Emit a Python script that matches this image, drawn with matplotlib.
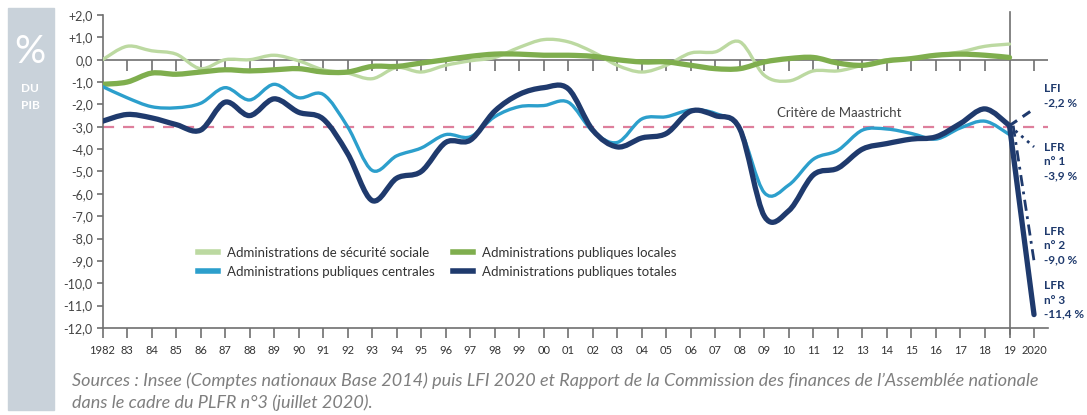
import numpy as np
import matplotlib.pyplot as plt
from matplotlib.path import Path
from matplotlib.patches import PathPatch, Rectangle
from matplotlib.lines import Line2D

plt.rcParams['font.family'] = ['Lato', 'DejaVu Sans']

# Soldes en % du PIB, 1982-2019
years = list(range(1982, 2020))
secu = [0.0, 0.6, 0.4, 0.25, -0.4, 0.0, 0.0, 0.2, -0.05, -0.45,
        -0.6, -0.85, -0.35, -0.55, -0.25, -0.05, 0.1, 0.55, 0.9, 0.8,
        0.35, -0.25, -0.55, -0.25, 0.3, 0.35, 0.8, -0.7, -0.95, -0.5,
        -0.5, -0.25, 0.0, 0.05, 0.2, 0.35, 0.6, 0.7]
locales = [-1.1, -1.0, -0.6, -0.65, -0.55, -0.45, -0.5, -0.45, -0.4, -0.55,
           -0.55, -0.3, -0.3, -0.15, 0.0, 0.15, 0.25, 0.25, 0.2, 0.2,
           0.15, 0.0, -0.1, -0.1, -0.25, -0.4, -0.4, -0.1, 0.05, 0.1,
           -0.15, -0.25, -0.05, 0.05, 0.2, 0.25, 0.2, 0.1]
centrales = [-1.2, -1.7, -2.1, -2.15, -1.95, -1.25, -1.8, -1.1, -1.7, -1.55,
             -3.0, -4.95, -4.3, -3.95, -3.35, -3.45, -2.55, -2.1, -2.05, -1.9,
             -3.2, -3.7, -2.65, -2.55, -2.25, -2.4, -3.1, -5.95, -5.6, -4.45,
             -4.05, -3.15, -3.1, -3.3, -3.55, -3.05, -2.75, -3.35]
totales = [-2.75, -2.45, -2.6, -2.9, -3.15, -1.9, -2.5, -1.75, -2.35, -2.65,
           -4.2, -6.3, -5.3, -5.0, -3.7, -3.6, -2.3, -1.55, -1.25, -1.3,
           -3.15, -3.9, -3.5, -3.3, -2.3, -2.5, -3.1, -7.0, -6.75, -5.15,
           -4.85, -4.0, -3.75, -3.55, -3.45, -2.85, -2.2, -2.95]

# Prévisions 2020
proj_labels = ['LFI\n-2,2 %', 'LFR\nn° 1\n-3,9 %', 'LFR\nn° 2\n-9,0 %', 'LFR\nn° 3\n-11,4 %']
proj_values = [-2.2, -3.9, -9.0, -11.4]
maastricht = -3.0

tick_years = list(range(1982, 2021))
tick_labels = ['1982'] + ['%02d' % (y % 100) for y in range(1983, 2020)] + ['2020']

c_secu = '#bcd9a1'
c_loc = '#7fae4e'
c_cent = '#2c9fcc'
c_tot = '#1f3a6d'
c_axis = '#707070'


def smooth_path(x, y):
    # courbe de Catmull-Rom convertie en Bezier cubiques
    x = np.asarray(x, float)
    y = np.asarray(y, float)
    pts = np.column_stack([x, y])
    ext = np.vstack([pts[0], pts, pts[-1]])
    verts = [pts[0]]
    codes = [Path.MOVETO]
    for i in range(len(pts) - 1):
        p0, p1, p2, p3 = ext[i], ext[i + 1], ext[i + 2], ext[i + 3]
        verts += [p1 + (p2 - p0) / 6, p2 - (p3 - p1) / 6, p2]
        codes += [Path.CURVE4] * 3
    return Path(verts, codes)


fig = plt.figure(figsize=(10.87, 4.15), dpi=100)
ax = fig.add_axes([102.5 / 1087, 1 - 328 / 415, 945 / 1087, 313 / 415])

# bandeau gris à gauche
fig.add_artist(Rectangle((8 / 1087, 1 - 410 / 415), 46 / 1087, 402 / 415,
                         transform=fig.transFigure, color='#c9d2da', zorder=0))
fig.text(30 / 1087, 1 - 52 / 415, '%', color='white', fontsize=28,
         ha='center', va='center')
fig.text(30 / 1087, 1 - 88 / 415, 'DU', color='white', fontsize=8.5,
         ha='center', va='center', fontweight='bold')
fig.text(30 / 1087, 1 - 105 / 415, 'PIB', color='white', fontsize=8.5,
         ha='center', va='center', fontweight='bold')

ax.set_xlim(1982, 2020.55)
ax.set_ylim(-12, 2)

# axe zéro et ses graduations
ax.axhline(0, color=c_axis, lw=1.2, zorder=1)
ax.vlines([y for y in tick_years[1:] if y != 2019], -0.5, 0, color=c_axis, lw=1.2, zorder=1)
ax.axvline(2019, ymin=-0.02, ymax=1.01, color=c_axis, lw=1.2, zorder=1, clip_on=False)

# critère de Maastricht
ax.axhline(maastricht, color='#de7f9c', lw=1.6, dashes=(5, 4), zorder=2)
ax.text(2009.5, -2.4, 'Critère de Maastricht', color='#444444', fontsize=9.5,
        ha='left', va='center')

series = [(secu, c_secu, 2.4), (locales, c_loc, 3.8), (centrales, c_cent, 2.4), (totales, c_tot, 3.8)]
for vals, col, lw in series:
    ax.add_patch(PathPatch(smooth_path(years, vals), fill=False, edgecolor=col,
                           lw=lw, capstyle='round', joinstyle='round', zorder=3))

# projections 2020
x_proj = [years[-1], 2020]
ax.plot(x_proj, [totales[-1], proj_values[0]], color=c_tot, lw=2.2, dashes=(3, 2.2), zorder=3)
ax.plot(x_proj, [totales[-1], proj_values[1]], color=c_tot, lw=2.0, dashes=(1, 1.8), zorder=3)
ax.plot([years[-1] + 0.15, 2020], [totales[-1], proj_values[2]], color=c_tot, lw=2.0,
        dashes=(4, 2, 1, 2), zorder=3)
ax.plot(x_proj, [totales[-1], proj_values[3]], color=c_tot, lw=3.8,
        solid_capstyle='round', zorder=4)

label_y = [-1.6, -4.55, -8.3, -10.75]
for txt, yy in zip(proj_labels, label_y):
    ax.text(2020.42, yy, txt, color=c_tot, fontsize=8.5, fontweight='bold',
            ha='left', va='center', linespacing=1.35, clip_on=False)

# axes
for s in ['top', 'right']:
    ax.spines[s].set_visible(False)
for s in ['left', 'bottom']:
    ax.spines[s].set_color(c_axis)
    ax.spines[s].set_linewidth(1.2)

ax.set_xticks(tick_years)
ax.set_xticklabels(tick_labels)
ax.set_yticks(np.arange(-12, 3, 1))
ax.set_yticklabels([('+' if v > 0 else '') + ('%.1f' % v).replace('.', ',')
                    for v in np.arange(-12, 3, 1)])
ax.tick_params(axis='x', direction='out', length=7, width=1.2, color=c_axis,
               labelsize=8, labelcolor='#333333', pad=5)
ax.tick_params(axis='y', direction='out', length=4, width=1.2, color=c_axis,
               labelsize=9, labelcolor='#444444', pad=3)

handles = [Line2D([], [], color=c_secu, lw=4), Line2D([], [], color=c_cent, lw=4),
           Line2D([], [], color=c_loc, lw=4), Line2D([], [], color=c_tot, lw=4)]
names = ['Administrations de sécurité sociale', 'Administrations publiques centrales',
         'Administrations publiques locales', 'Administrations publiques totales']
fig.legend(handles, names, ncol=2, loc='upper left',
           bbox_to_anchor=(198 / 1087, 1 - 247 / 415), frameon=False,
           fontsize=9.5, handlelength=1.5, handletextpad=0.7, columnspacing=1.4,
           labelspacing=0.5, borderpad=0, borderaxespad=0, labelcolor='#333333')

fig.text(72 / 1087, 1 - 381 / 415,
         "Sources : Insee (Comptes nationaux Base 2014) puis LFI 2020 et Rapport de la "
         "Commission des finances de l’Assemblée nationale",
         style='italic', color='#7f7f7f', fontsize=13, va='center')
fig.text(72 / 1087, 1 - 403 / 415, "dans le cadre du PLFR n°3 (juillet 2020).",
         style='italic', color='#7f7f7f', fontsize=13, va='center')

fig.savefig('out.png', dpi=100)
